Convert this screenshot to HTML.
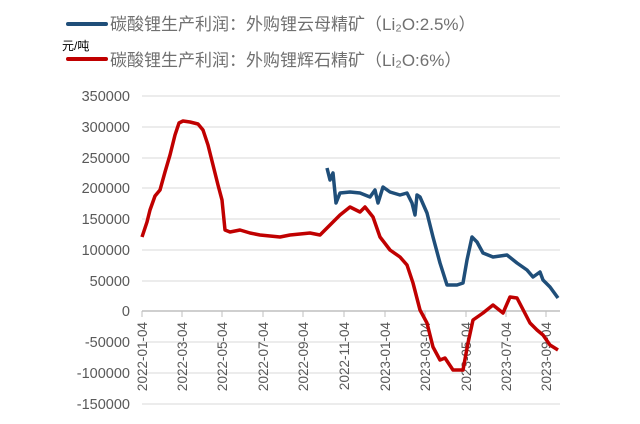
<!DOCTYPE html>
<html><head><meta charset="utf-8"><style>
body{margin:0;background:#fff;}
svg{display:block;font-family:"Liberation Sans","Noto Sans CJK SC",sans-serif;}
</style></head><body>
<svg width="640" height="424" viewBox="0 0 640 424">
<g stroke="#d9d9d9" stroke-width="1">
<line x1="142" y1="96" x2="560" y2="96"/><line x1="142" y1="127" x2="560" y2="127"/>
<line x1="142" y1="158" x2="560" y2="158"/><line x1="142" y1="188" x2="560" y2="188"/>
<line x1="142" y1="219" x2="560" y2="219"/><line x1="142" y1="250" x2="560" y2="250"/>
<line x1="142" y1="281" x2="560" y2="281"/><line x1="142" y1="342" x2="560" y2="342"/>
<line x1="142" y1="373" x2="560" y2="373"/><line x1="142" y1="404" x2="560" y2="404"/>
</g>
<line x1="142" y1="311" x2="560" y2="311" stroke="#bfbfbf" stroke-width="1.5"/>
<g stroke="#bfbfbf" stroke-width="1">
<line x1="142" y1="311" x2="142" y2="317"/><line x1="182" y1="311" x2="182" y2="317"/>
<line x1="222" y1="311" x2="222" y2="317"/><line x1="263" y1="311" x2="263" y2="317"/>
<line x1="303" y1="311" x2="303" y2="317"/><line x1="344" y1="311" x2="344" y2="317"/>
<line x1="385" y1="311" x2="385" y2="317"/><line x1="425" y1="311" x2="425" y2="317"/>
<line x1="466" y1="311" x2="466" y2="317"/><line x1="506" y1="311" x2="506" y2="317"/>
<line x1="546" y1="311" x2="546" y2="317"/>
</g>
<g font-size="14.5" fill="#595959" text-anchor="end">
<text x="130" y="101">350000</text><text x="130" y="132">300000</text>
<text x="130" y="163">250000</text><text x="130" y="193">200000</text>
<text x="130" y="224">150000</text><text x="130" y="255">100000</text>
<text x="130" y="286">50000</text><text x="130" y="316">0</text>
<text x="130" y="347">-50000</text><text x="130" y="378">-100000</text>
<text x="130" y="409">-150000</text>
</g>
<g font-size="13.5" fill="#595959" text-anchor="end">
<text transform="translate(147,322) rotate(-90)">2022-01-04</text>
<text transform="translate(187,322) rotate(-90)">2022-03-04</text>
<text transform="translate(227,322) rotate(-90)">2022-05-04</text>
<text transform="translate(268,322) rotate(-90)">2022-07-04</text>
<text transform="translate(308,322) rotate(-90)">2022-09-04</text>
<text transform="translate(349,322) rotate(-90)">2022-11-04</text>
<text transform="translate(390,322) rotate(-90)">2023-01-04</text>
<text transform="translate(430,322) rotate(-90)">2023-03-04</text>
<text transform="translate(471,322) rotate(-90)">2023-05-04</text>
<text transform="translate(511,322) rotate(-90)">2023-07-04</text>
<text transform="translate(551,322) rotate(-90)">2023-09-04</text>
</g>
<polyline fill="none" stroke="#c00000" stroke-width="3.5" stroke-linejoin="round" points="142,237 147,222 150,210 155,196 160,190 165,172 170,155 175,135 179,123 183,121 190,122 198,124 203,130 208,145 213,165 218,185 222,200 225,230 230,232 240,230 250,233 260,235 270,236 280,237 290,235 300,234 310,233 320,235 330,225 340,215 350,207 360,212 365,207 373,217 380,237 390,250 400,257 407,265 413,283 420,310 427,323 433,347 440,360 445,358 453,370 463,370 468,343 473,320 483,313 493,305 503,313 510,297 517,298 530,323 537,330 543,335 550,345 558,350"/>
<polyline fill="none" stroke="#1f4e79" stroke-width="3.5" stroke-linejoin="round" points="327,168 330,180 333,173 336,203 340,193 350,192 360,193 370,197 375,190 378,203 383,187 390,192 400,195 407,193 412,203 415,215 417,195 420,197 427,213 433,237 440,263 447,285 457,285 463,283 467,260 472,237 477,242 483,253 493,257 507,255 517,263 527,270 533,277 540,272 543,280 550,287 558,298"/>
<line x1="68" y1="24" x2="106" y2="24" stroke="#1f4e79" stroke-width="4" stroke-linecap="round"/>
<line x1="68" y1="59" x2="106" y2="59" stroke="#c00000" stroke-width="4" stroke-linecap="round"/>
<g font-size="17" fill="#707070">
<text x="110" y="30">碳酸锂生产利润：外购锂云母精矿（Li₂O:2.5%）</text>
<text x="110" y="66">碳酸锂生产利润：外购锂辉石精矿（Li₂O:6%）</text>
</g>
<text x="62" y="50" font-size="12" fill="#000">元/吨</text>
</svg>
</body></html>
